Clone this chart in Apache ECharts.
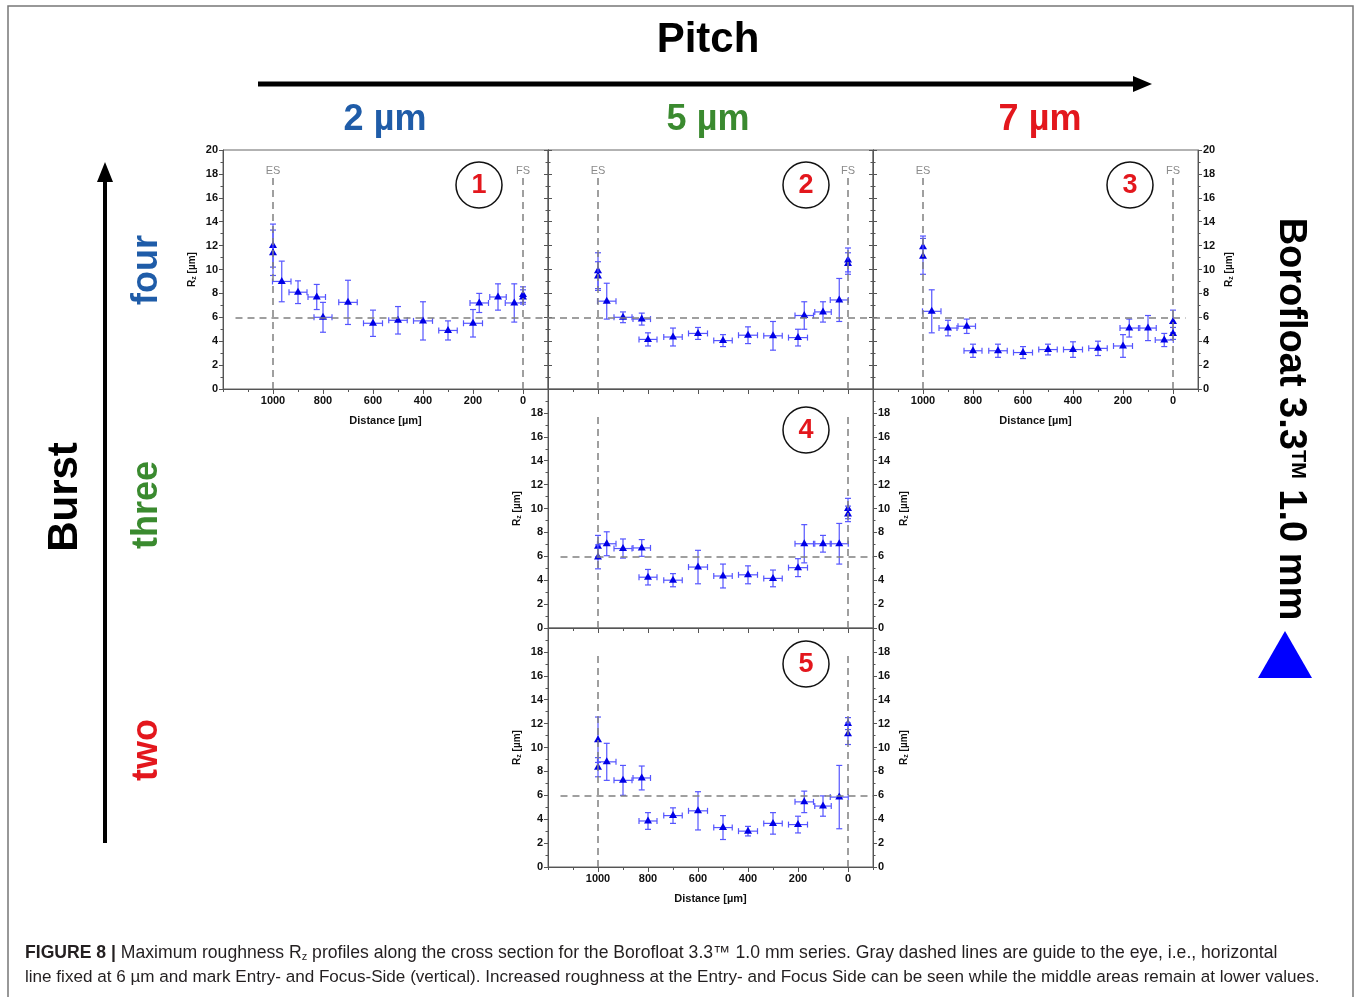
<!DOCTYPE html>
<html>
<head>
<meta charset="utf-8">
<script src="https://cdn.jsdelivr.net/npm/echarts@6/dist/echarts.min.js"></script>
<style>
  html, body { margin: 0; padding: 0; background: #fff; }
  #main { width: 1356px; height: 997px; }
</style>
</head>
<body>
<div id="main"></div>
<script>
// distance from focus side [µm], two repeats at ES (1000) and FS (0)
var xPos = [1000, 1000, 965, 900, 825, 800, 700, 600, 500, 400, 300, 200, 175, 100, 35, 0, 0];
var xErr = [0, 0, 37, 36, 35, 36, 37, 38, 37, 38, 37, 38, 37, 33, 36, 0, 0];

// panel 1: 2 µm pitch, four bursts
var rz1  = [12.0, 11.4, 9.0, 8.1, 7.7, 6.0, 7.25, 5.5, 5.75, 5.7, 4.9, 5.5, 7.2, 7.7, 7.2, 7.9, 7.7];
var err1 = [1.8, 1.9, 1.7, 0.95, 1.05, 1.25, 1.85, 1.1, 1.15, 1.6, 0.8, 1.15, 0.8, 1.1, 1.6, 0.65, 0.6];
// panel 2: 5 µm pitch, four bursts
var rz2  = [9.9, 9.45, 7.35, 6.0, 5.85, 4.15, 4.35, 4.65, 4.05, 4.5, 4.45, 4.3, 6.15, 6.45, 7.45, 10.8, 10.5];
var err2 = [1.5, 1.2, 1.5, 0.45, 0.5, 0.55, 0.75, 0.5, 0.5, 0.7, 1.2, 0.7, 1.15, 0.85, 1.8, 1.0, 0.9];
// panel 3: 7 µm pitch, four bursts
var rz3  = [11.9, 11.1, 6.5, 5.1, 5.25, 3.2, 3.2, 3.05, 3.3, 3.3, 3.4, 3.6, 5.1, 5.1, 4.1, 5.65, 4.65];
var err3 = [0.9, 1.5, 1.8, 0.65, 0.6, 0.55, 0.55, 0.5, 0.45, 0.65, 0.6, 0.95, 0.75, 1.05, 0.55, 0.95, 0.5];
// panel 4: 5 µm pitch, three bursts
var rz4  = [6.85, 5.95, 7.05, 6.65, 6.7, 4.25, 4.0, 5.1, 4.35, 4.45, 4.15, 5.05, 7.05, 7.05, 7.05, 10.0, 9.55];
var err4 = [0.9, 1.0, 1.0, 0.8, 0.7, 0.65, 0.55, 1.4, 1.0, 0.75, 0.7, 0.75, 1.6, 0.7, 1.7, 0.85, 0.65];
// panel 5: 5 µm pitch, two bursts
var rz5  = [10.65, 8.35, 8.8, 7.25, 7.45, 3.85, 4.3, 4.7, 3.3, 3.0, 3.65, 3.55, 5.45, 5.1, 5.85, 12.0, 11.15];
var err5 = [1.9, 0.8, 1.55, 1.25, 1.0, 0.7, 0.65, 1.6, 1.0, 0.4, 0.9, 0.7, 0.9, 0.85, 2.65, 0.5, 0.9];

var xMajor = [0, 200, 400, 600, 800, 1000];
var esFs = [1000, 0];       // entry side / focus side
var guideRz = 6;            // horizontal guide [µm]
var panelNames = ['1', '2', '3', '4', '5'];
var colTitles = ['2 µm', '5 µm', '7 µm'];
var rowTitles = ['four', 'three', 'two'];

var FONT = '"Liberation Sans", Arial, sans-serif';
var BLUE = '#1f5ca8', GREEN = '#3a8a2f', RED = '#e3171d';

var panels = [
  { rz: rz1, err: err1, grid: { left: 223, top: 150 }, xLab: true,  lLab: true,  rLab: false, hide20: false, esLab: true,  hl: [1150, -100], circ: [479, 185] },
  { rz: rz2, err: err2, grid: { left: 548, top: 150 }, xLab: false, lLab: false, rLab: false, hide20: false, esLab: true,  hl: [1200, -100], circ: [806, 185] },
  { rz: rz3, err: err3, grid: { left: 873, top: 150 }, xLab: true,  lLab: false, rLab: true,  hide20: false, esLab: true,  hl: [1200, -50],  circ: [1130, 185] },
  { rz: rz4, err: err4, grid: { left: 548, top: 389 }, xLab: false, lLab: true,  rLab: true,  hide20: true,  esLab: false, hl: [1150, -100], circ: [806, 430] },
  { rz: rz5, err: err5, grid: { left: 548, top: 628 }, xLab: true,  lLab: true,  rLab: true,  hide20: true,  esLab: false, hl: [1150, -100], circ: [806, 664] }
];

var rzName = '{r|R}{s|z}{r| [µm]}';
var rzNameStyle = {
  color: '#111',
  rich: {
    r: { fontSize: 10, fontWeight: 'bold', fontFamily: FONT, color: '#111' },
    s: { fontSize: 7, fontWeight: 'bold', fontFamily: FONT, color: '#111', padding: [5, 0, 0, 0] }
  }
};

function renderErr(params, api) {
  var x = api.value(0), y = api.value(1), ex = api.value(2), ey = api.value(3);
  var c = api.coord([x, y]);
  var t = api.coord([x, y + ey]), b = api.coord([x, y - ey]);
  var kids = [];
  var bar = { stroke: '#5555ff', lineWidth: 1.2 };
  kids.push({ type: 'line', shape: { x1: c[0], y1: t[1], x2: c[0], y2: b[1] }, style: bar });
  kids.push({ type: 'line', shape: { x1: c[0] - 3, y1: t[1], x2: c[0] + 3, y2: t[1] }, style: bar });
  kids.push({ type: 'line', shape: { x1: c[0] - 3, y1: b[1], x2: c[0] + 3, y2: b[1] }, style: bar });
  if (ex > 0) {
    var l = api.coord([x + ex, y]), r = api.coord([x - ex, y]);
    kids.push({ type: 'line', shape: { x1: l[0], y1: c[1], x2: r[0], y2: c[1] }, style: bar });
    kids.push({ type: 'line', shape: { x1: l[0], y1: c[1] - 3, x2: l[0], y2: c[1] + 3 }, style: bar });
    kids.push({ type: 'line', shape: { x1: r[0], y1: c[1] - 3, x2: r[0], y2: c[1] + 3 }, style: bar });
  }
  kids.push({
    type: 'polygon',
    shape: { points: [[c[0], c[1] - 4.5], [c[0] + 4, c[1] + 2.5], [c[0] - 4, c[1] + 2.5]] },
    style: { fill: '#0000e6' }
  });
  return { type: 'group', children: kids };
}

var grid = [], xAxis = [], yAxis = [], series = [], graphic = [];

panels.forEach(function (p, i) {
  grid.push({ left: p.grid.left, top: p.grid.top, width: 325, height: 239,
    show: true, borderColor: '#666', borderWidth: 1, containLabel: false });

  xAxis.push({
    type: 'value', gridIndex: i, position: 'bottom', min: -100, max: 1200, inverse: true,
    axisLine: { show: true, onZero: false, lineStyle: { color: '#555', width: 1 } },
    axisTick: { show: true, length: 5, customValues: xMajor, lineStyle: { color: '#555' } },
    axisLabel: { show: p.xLab, customValues: xMajor, margin: 6, color: '#111', fontSize: 11, fontWeight: 'bold', fontFamily: FONT,
      formatter: function (v) { return String(v); } },
    splitLine: { show: false },
    name: p.xLab ? 'Distance [µm]' : '', nameLocation: 'middle', nameGap: 26,
    nameTextStyle: { color: '#111', fontSize: 11, fontWeight: 'bold', fontFamily: FONT }
  });
  // minor ticks every 100 µm
  xAxis.push({
    type: 'value', gridIndex: i, position: 'bottom', min: -100, max: 1200, interval: 100, inverse: true,
    axisLine: { show: false, onZero: false },
    axisTick: { show: true, length: 3, lineStyle: { color: '#555' } },
    axisLabel: { show: false }, splitLine: { show: false }
  });

  [['left', p.lLab], ['right', p.rLab]].forEach(function (side) {
    yAxis.push({
      type: 'value', gridIndex: i, position: side[0], min: 0, max: 20, interval: 2,
      axisLine: { show: true, onZero: false, lineStyle: { color: '#555', width: 1 } },
      axisTick: { show: true, length: 4, lineStyle: { color: '#555' } },
      minorTick: { show: true, splitNumber: 2, length: 2.5, lineStyle: { color: '#555' } },
      axisLabel: {
        show: side[1], margin: 5, color: '#111', fontSize: 11, fontWeight: 'bold', fontFamily: FONT,
        formatter: function (v) { return (p.hide20 && v === 20) ? '' : String(v); }
      },
      splitLine: { show: false },
      name: side[1] ? rzName : '', nameLocation: 'middle', nameGap: 25, nameRotate: 90,
      nameTextStyle: rzNameStyle
    });
  });

  var data = xPos.map(function (x, k) { return [x, p.rz[k], xErr[k], p.err[k]]; });
  series.push({
    type: 'custom', xAxisIndex: 2 * i, yAxisIndex: 2 * i, data: data,
    renderItem: renderErr, clip: false, silent: true,
    markLine: {
      silent: true, symbol: ['none', 'none'],
      lineStyle: { color: '#808080', type: [7, 5], width: 1.5 },
      label: { show: p.esLab, position: 'end', formatter: '{b}', distance: -3, color: '#8a8a8a', fontSize: 11, fontFamily: FONT },
      data: [
        [{ name: 'ES', coord: [esFs[0], 0] }, { coord: [esFs[0], 18] }],
        [{ name: 'FS', coord: [esFs[1], 0] }, { coord: [esFs[1], 18] }],
        [{ name: '', coord: [p.hl[0], guideRz], label: { show: false } }, { coord: [p.hl[1], guideRz] }]
      ]
    }
  });

  graphic.push({ type: 'circle', shape: { cx: p.circ[0], cy: p.circ[1], r: 23 },
    style: { fill: 'none', stroke: '#111', lineWidth: 1.5 }, silent: true });
  graphic.push({ type: 'text', x: p.circ[0], y: p.circ[1] + 1,
    style: { text: panelNames[i], font: 'bold 27px ' + FONT, fill: RED, align: 'center', verticalAlign: 'middle' } });
});

// frame, headings, arrows
graphic.push({ type: 'rect', shape: { x: 8, y: 6, width: 1345, height: 1010 },
  style: { fill: 'none', stroke: '#777', lineWidth: 1.5 }, silent: true });
graphic.push({ type: 'text', x: 708, y: 40,
  style: { text: 'Pitch', font: 'bold 42px ' + FONT, fill: '#000', align: 'center', verticalAlign: 'middle' } });
graphic.push({ type: 'line', shape: { x1: 258, y1: 84, x2: 1136, y2: 84 }, style: { stroke: '#000', lineWidth: 5 } });
graphic.push({ type: 'polygon', shape: { points: [[1152, 84], [1133, 76], [1133, 92]] }, style: { fill: '#000' } });

var colX = [385, 708, 1040], colC = [BLUE, GREEN, RED];
colTitles.forEach(function (t, i) {
  graphic.push({ type: 'text', x: colX[i], y: 120,
    style: { text: t, font: 'bold 36px ' + FONT, fill: colC[i], align: 'center', verticalAlign: 'middle' } });
});

graphic.push({ type: 'line', shape: { x1: 105, y1: 843, x2: 105, y2: 180 }, style: { stroke: '#000', lineWidth: 4 } });
graphic.push({ type: 'polygon', shape: { points: [[105, 162], [97, 182], [113, 182]] }, style: { fill: '#000' } });
graphic.push({ type: 'text', x: 65, y: 497, rotation: Math.PI / 2,
  style: { text: 'Burst', font: 'bold 42px ' + FONT, fill: '#000', align: 'center', verticalAlign: 'middle' } });

var rowY = [270, 505, 750];
rowTitles.forEach(function (t, i) {
  graphic.push({ type: 'text', x: 147, y: rowY[i], rotation: Math.PI / 2,
    style: { text: t, font: 'bold 36px ' + FONT, fill: colC[i], align: 'center', verticalAlign: 'middle' } });
});

graphic.push({ type: 'text', x: 1290, y: 419, rotation: -Math.PI / 2,
  style: {
    text: '{a|Borofloat 3.3}{t|TM}{a| 1.0 mm}', align: 'center', verticalAlign: 'middle', fill: '#000',
    rich: {
      a: { font: 'bold 38px ' + FONT, fill: '#000' },
      t: { font: 'bold 20px ' + FONT, fill: '#000', padding: [0, 0, 16, 0] }
    }
  } });
graphic.push({ type: 'polygon', shape: { points: [[1285, 631], [1312, 678], [1258, 678]] }, style: { fill: '#0000ff' } });

// caption
function capRich(size) {
  return {
    b: { font: 'bold ' + size + 'px ' + FONT, fill: '#231f20' },
    n: { font: size + 'px ' + FONT, fill: '#231f20' },
    s: { font: '11px ' + FONT, fill: '#231f20', padding: [7, 0, 0, 0] }
  };
}
graphic.push({ type: 'text', x: 25, y: 953,
  style: { text: '{b|FIGURE 8 |}{n| Maximum roughness R}{s|z}{n| profiles along the cross section for the Borofloat 3.3™ 1.0 mm series. Gray dashed lines are guide to the eye, i.e., horizontal}',
    rich: capRich(17.6), verticalAlign: 'middle' } });
graphic.push({ type: 'text', x: 25, y: 977,
  style: { text: '{n|line fixed at 6 µm and mark Entry- and Focus-Side (vertical). Increased roughness at the Entry- and Focus Side can be seen while the middle areas remain at lower values.}',
    rich: capRich(17.1), verticalAlign: 'middle' } });

var chart = echarts.init(document.getElementById('main'), null, { renderer: 'canvas' });
chart.setOption({
  backgroundColor: '#fff',
  animation: false,
  grid: grid,
  xAxis: xAxis,
  yAxis: yAxis,
  series: series,
  graphic: graphic
});
</script>
</body>
</html>
